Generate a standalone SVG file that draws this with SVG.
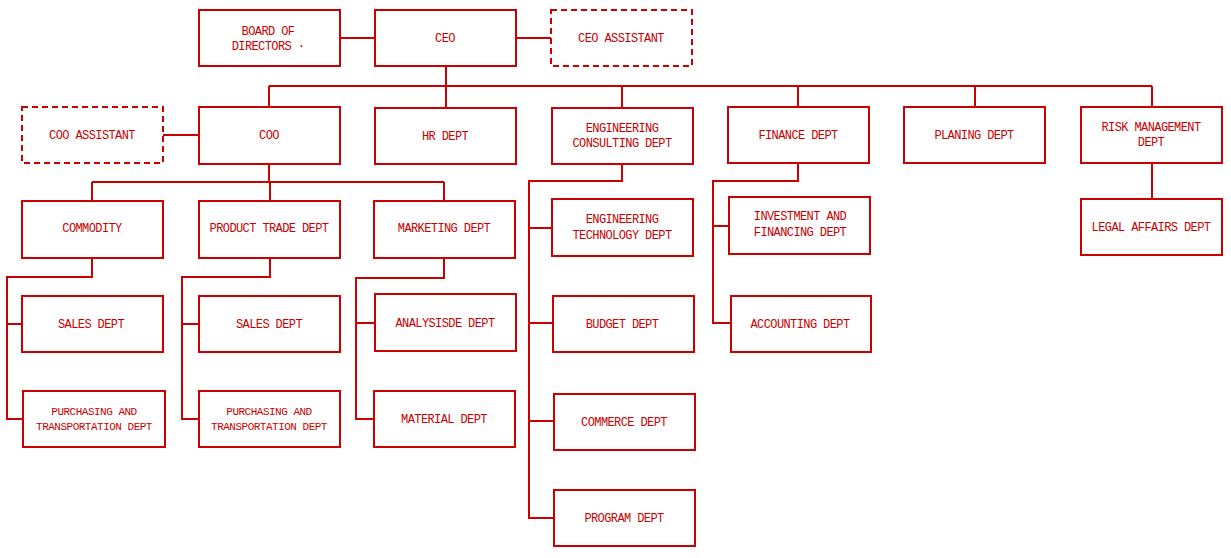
<svg xmlns="http://www.w3.org/2000/svg" width="1231" height="558" viewBox="0 0 1231 558">
<style>
.box{fill:#fff;stroke:#cc0000;stroke-width:2}
.dash{fill:#fff;stroke:#cc0000;stroke-width:2;stroke-dasharray:6,4}
.t{font-family:"Liberation Mono","DejaVu Sans Mono",monospace;font-size:12px;letter-spacing:-0.6px;fill:#c80000;text-anchor:middle}
.s{font-size:11px;letter-spacing:-0.5px}
.c{fill:none;stroke:#cc0000;stroke-width:2}
</style>
<rect width="1231" height="558" fill="#fff"/>
<g id="connectors" class="c">
<path d="M340,38H375M516,38H551"/>
<path d="M446,66V86M269,86H1152M269,86V107M446,86V108M622,86V108M798,86V107M975,86V107M1152,86V107"/>
<path d="M163,135H199"/>
<path d="M269,164V182M92,182H444M92,182V201M270,182V201M444,182V201"/>
<path d="M92,258V277H7V419H23M7,324H22"/>
<path d="M270,258V277H182V419H199M182,324H199"/>
<path d="M444,258V278H356V419H374M356,323H375"/>
<path d="M622,164V181H529V518H554M529,228H552M529,323H553M529,421H554"/>
<path d="M798,163V181H713V323H731M713,226H729"/>
<path d="M1152,163V199"/>
</g>
<g id="board"><rect class="box" x="199" y="10" width="141" height="56"/><text class="t" x="268" y="35">BOARD OF</text><text class="t" x="268" y="50">DIRECTORS ·</text></g>
<g id="ceo"><rect class="box" x="375" y="10" width="141" height="56"/><text class="t" x="445" y="42">CEO</text></g>
<g id="ceo-assistant"><rect class="dash" x="551" y="10" width="141" height="56"/><text class="t" x="621" y="42">CEO ASSISTANT</text></g>
<g id="coo-assistant"><rect class="dash" x="22" y="107" width="141" height="56"/><text class="t" x="92" y="139">COO ASSISTANT</text></g>
<g id="coo"><rect class="box" x="199" y="107" width="141" height="57"/><text class="t" x="269" y="139">COO</text></g>
<g id="hr"><rect class="box" x="375" y="108" width="141" height="56"/><text class="t" x="445" y="140">HR DEPT</text></g>
<g id="eng-consulting"><rect class="box" x="552" y="108" width="141" height="56"/><text class="t" x="622" y="132">ENGINEERING</text><text class="t" x="622" y="147">CONSULTING DEPT</text></g>
<g id="finance"><rect class="box" x="728" y="107" width="141" height="56"/><text class="t" x="798" y="139">FINANCE DEPT</text></g>
<g id="planing"><rect class="box" x="904" y="107" width="141" height="56"/><text class="t" x="974" y="139">PLANING DEPT</text></g>
<g id="risk"><rect class="box" x="1081" y="107" width="141" height="56"/><text class="t" x="1151" y="131">RISK MANAGEMENT</text><text class="t" x="1151" y="146">DEPT</text></g>
<g id="commodity"><rect class="box" x="22" y="201" width="141" height="57"/><text class="t" x="92" y="232">COMMODITY</text></g>
<g id="product-trade"><rect class="box" x="199" y="201" width="141" height="57"/><text class="t" x="269" y="232">PRODUCT TRADE DEPT</text></g>
<g id="marketing"><rect class="box" x="374" y="201" width="141" height="57"/><text class="t" x="444" y="232">MARKETING DEPT</text></g>
<g id="eng-tech"><rect class="box" x="552" y="199" width="141" height="57"/><text class="t" x="622" y="223">ENGINEERING</text><text class="t" x="622" y="239">TECHNOLOGY DEPT</text></g>
<g id="investment"><rect class="box" x="729" y="197" width="141" height="57"/><text class="t" x="800" y="220">INVESTMENT AND</text><text class="t" x="800" y="236">FINANCING DEPT</text></g>
<g id="legal"><rect class="box" x="1081" y="199" width="141" height="56"/><text class="t" x="1151" y="231">LEGAL AFFAIRS DEPT</text></g>
<g id="sales-1"><rect class="box" x="22" y="296" width="141" height="56"/><text class="t" x="91" y="328">SALES DEPT</text></g>
<g id="sales-2"><rect class="box" x="199" y="296" width="141" height="56"/><text class="t" x="269" y="328">SALES DEPT</text></g>
<g id="analysisde"><rect class="box" x="375" y="294" width="141" height="57"/><text class="t" x="445" y="327">ANALYSISDE DEPT</text></g>
<g id="budget"><rect class="box" x="553" y="296" width="141" height="56"/><text class="t" x="622" y="328">BUDGET DEPT</text></g>
<g id="accounting"><rect class="box" x="731" y="296" width="140" height="56"/><text class="t" x="800" y="328">ACCOUNTING DEPT</text></g>
<g id="purchasing-1"><rect class="box" x="23" y="391" width="142" height="56"/><text class="t s" x="94" y="415">PURCHASING AND</text><text class="t s" x="94" y="430">TRANSPORTATION DEPT</text></g>
<g id="purchasing-2"><rect class="box" x="199" y="391" width="141" height="56"/><text class="t s" x="269" y="415">PURCHASING AND</text><text class="t s" x="269" y="430">TRANSPORTATION DEPT</text></g>
<g id="material"><rect class="box" x="374" y="391" width="141" height="56"/><text class="t" x="444" y="423">MATERIAL DEPT</text></g>
<g id="commerce"><rect class="box" x="554" y="394" width="141" height="56"/><text class="t" x="624" y="426">COMMERCE DEPT</text></g>
<g id="program"><rect class="box" x="554" y="490" width="141" height="56"/><text class="t" x="624" y="522">PROGRAM DEPT</text></g>
</svg>
